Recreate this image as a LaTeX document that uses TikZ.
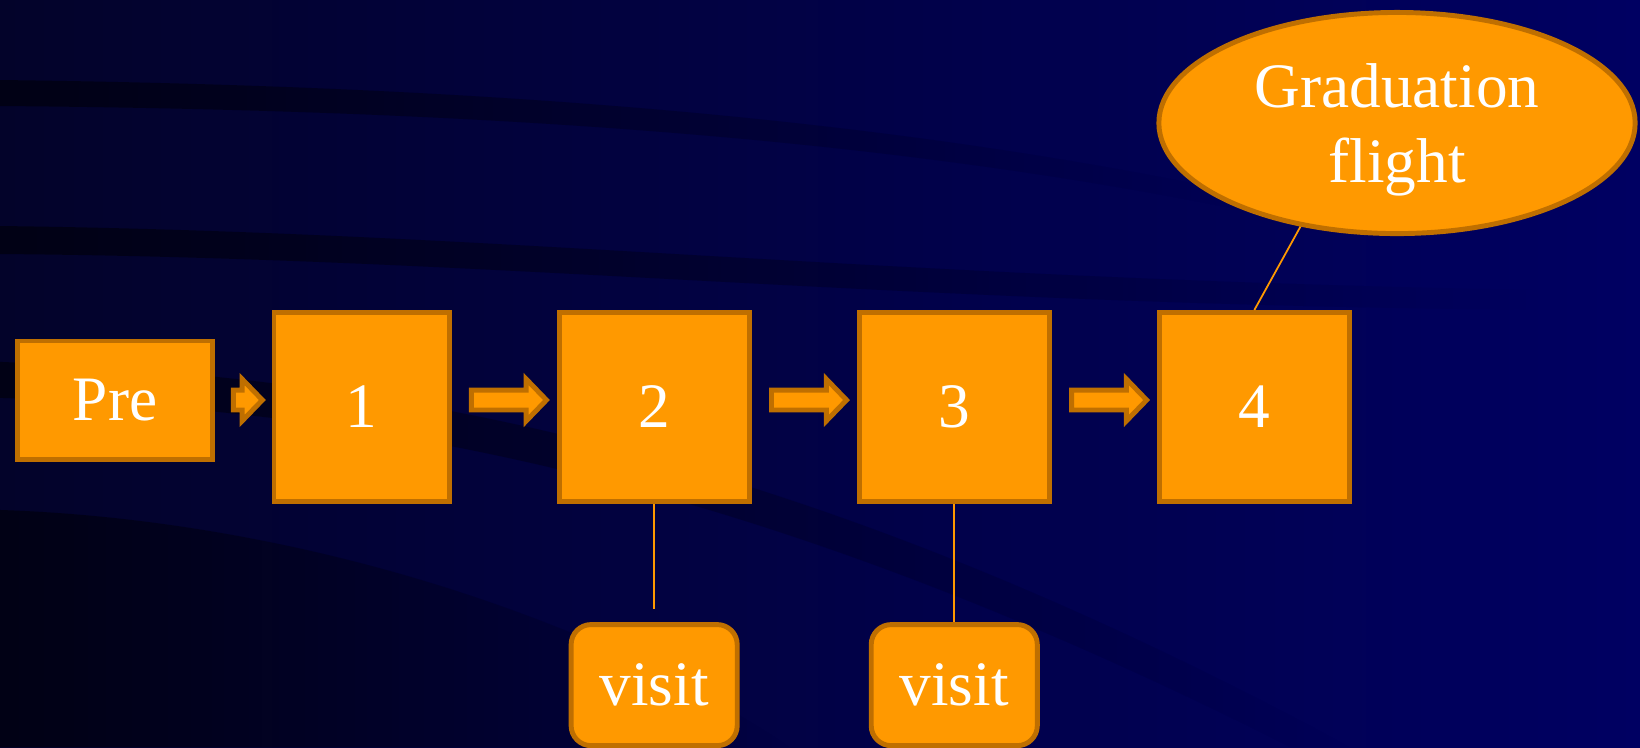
\documentclass[tikz,border=0pt]{standalone}
\usepackage{fontspec}
\setmainfont{Liberation Serif}
\usetikzlibrary{positioning,shapes.geometric,shapes.arrows,calc,fadings}

\definecolor{slidenavy}{HTML}{000062}
\definecolor{slidedark}{HTML}{03032A}
\definecolor{boxorange}{HTML}{FF9900}
\definecolor{boxedge}{HTML}{BF6F00}

\begin{document}
\begin{tikzpicture}[x=0.01cm, y=-0.01cm,
  stage/.style={draw=boxedge, line width=1.4pt, fill=boxorange, text=white,
    inner sep=0pt, font=\fontsize{18}{19.5}\selectfont},
  big stage/.style={stage, minimum width=1.9cm, minimum height=1.89cm},
  visit box/.style={stage, rounded corners=0.2cm, minimum width=1.66cm, minimum height=1.21cm},
  flow/.style={single arrow, draw=boxedge, line width=1.4pt, fill=boxorange,
    inner xsep=0pt, inner ysep=0.075cm, minimum width=0.37cm,
    single arrow head extend=0.11cm, single arrow tip angle=92},
  band/.style={fill=black, opacity=0.5, path fading=east},
  link/.style={draw=boxorange, line width=0.5pt}]

% background
\useasboundingbox (0,0) rectangle (1640,747);
\shade[left color=slidedark, right color=slidenavy] (0,0) rectangle (1640,747);
\fill[band] (0,80) .. controls (500,86) and (900,120) .. (1250,195)
  -- (1250,212) .. controls (900,140) and (500,110) .. (0,106) -- cycle;
\fill[band] (0,226) .. controls (500,232) and (900,280) .. (1550,290)
  -- (1550,310) .. controls (900,305) and (500,258) .. (0,254) -- cycle;
\fill[band] (0,362) .. controls (400,378) and (800,450) .. (1350,747)
  -- (1290,747) .. controls (780,490) and (400,410) .. (0,398) -- cycle;
\fill[band] (0,510) .. controls (300,520) and (600,620) .. (790,747) -- (0,747) -- cycle;

% stages
\node[stage, minimum width=1.94cm, minimum height=1.18cm] (pre) at (115,400) {Pre};
\node[big stage, minimum width=1.75cm, right=0.57cm of pre, yshift=-0.07cm] (b1) {1};
\node[big stage, right=1.05cm of b1] (b2) {2};
\node[big stage, right=1.05cm of b2] (b3) {3};
\node[big stage, right=1.05cm of b3] (b4) {4};

\node[visit box, below=1.18cm of b2] (v1) {visit};
\node[visit box, below=1.18cm of b3] (v2) {visit};

\node[stage, ellipse, align=center, font=\fontsize{18}{21.6}\selectfont, text depth=0pt,
  minimum width=4.76cm, minimum height=2.21cm] (grad) at (1397,123) {Graduation\\flight};

% arrows
\node[flow, minimum height=0.29cm, yshift=0.035cm] (a0) at ($(pre.east)!0.5!(b1.west)$) {};
\node[flow, minimum height=0.75cm, yshift=0.07cm] (a1) at ($(b1.east)!0.5!(b2.west)$) {};
\node[flow, minimum height=0.75cm, yshift=0.07cm] (a2) at ($(b2.east)!0.5!(b3.west)$) {};
\node[flow, minimum height=0.75cm, yshift=0.07cm] (a3) at ($(b3.east)!0.5!(b4.west)$) {};

% links
\draw[link, shorten >=0.13cm] (b2) -- (v1);
\draw[link] (b3) -- (v2);
\draw[link] (b4.north) -- (grad.227);
\end{tikzpicture}
\end{document}
